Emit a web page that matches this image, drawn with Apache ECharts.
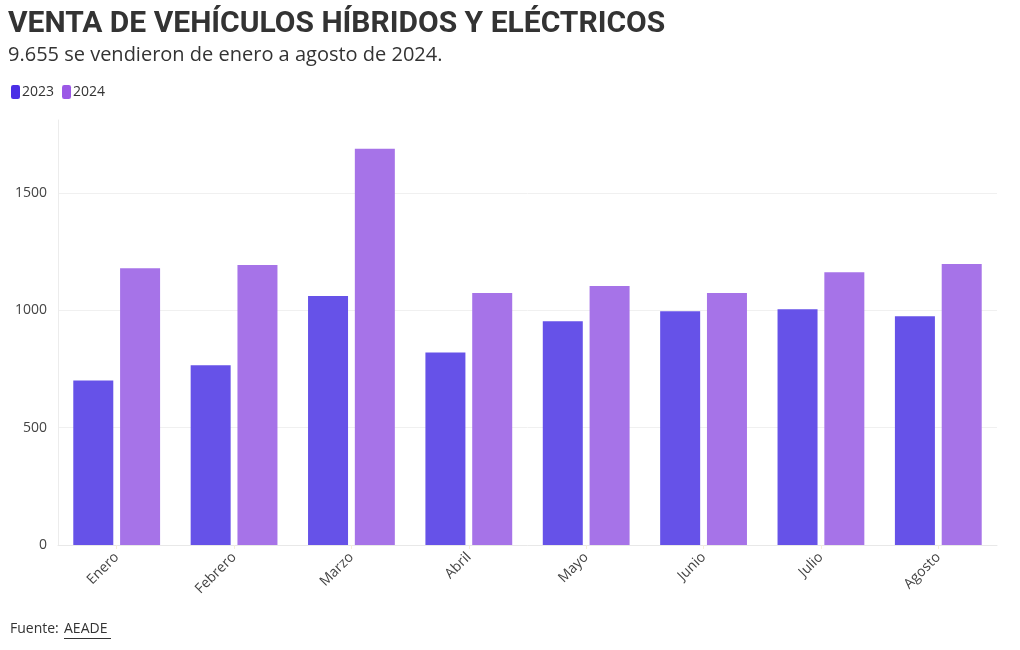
<!DOCTYPE html>
<html><head><meta charset="utf-8">
<script src="https://cdn.jsdelivr.net/npm/echarts@6/dist/echarts.min.js"></script>
<style>html,body{margin:0;padding:0;background:#fff}#c{width:1020px;height:650px}</style>
</head><body><div id="c"></div>
<script>
const months = ["Enero","Febrero","Marzo","Abril","Mayo","Junio","Julio","Agosto"];
const sales2023 = [701, 765, 1060, 820, 953, 996, 1004, 974];
const sales2024 = [1179, 1192, 1688, 1073, 1103, 1073, 1162, 1197];
const yTicks = [0, 500, 1000, 1500];

const chart = echarts.init(document.getElementById('c'));
const font = "'Open Sans', 'Noto Sans', sans-serif";
chart.setOption({
  animation: false,
  textStyle: {fontFamily: font},
  title: {
    text: 'VENTA DE VEHÍCULOS HÍBRIDOS Y ELÉCTRICOS',
    subtext: '9.655 se vendieron de enero a agosto de 2024.',
    left: 8, top: 9, itemGap: 6, padding: 0,
    textStyle: {fontFamily: "Roboto, sans-serif", fontSize: 30, fontWeight: 'bold', color: '#333'},
    subtextStyle: {fontFamily: font, fontSize: 20, color: '#333'}
  },
  legend: {
    left: 6, top: 80, itemWidth: 9, itemHeight: 14, itemGap: 8,
    icon: 'roundRect',
    textStyle: {fontSize: 14, color: '#333', padding: [0,0,0,-3]},
    data: [
      {name: '2023', itemStyle: {color: '#4b2fe6'}},
      {name: '2024', itemStyle: {color: '#9b58e6'}}
    ]
  },
  grid: {left: 58, right: 23, top: 120, bottom: 105, containLabel: false},
  xAxis: {
    type: 'category', data: months,
    axisLine: {lineStyle: {color: '#e8e8e8'}},
    axisTick: {show: true, alignWithLabel: true, length: 4, lineStyle: {color: '#f5f0d8'}},
    axisLabel: {rotate: 45, fontSize: 14, color: '#444', margin: 10}
  },
  yAxis: {
    type: 'value', min: 0, max: 1810, interval: 500,
    axisLine: {show: true, lineStyle: {color: '#ececec'}},
    axisTick: {show: false},
    axisLabel: {fontSize: 14, color: '#444', margin: 11, showMaxLabel: false,
      formatter: v => yTicks.includes(v) ? String(v) : ''},
    splitLine: {lineStyle: {color: '#f0f0f0'}, showMaxLine: false}
  },
  series: [
    {name: '2023', type: 'bar', data: sales2023, barWidth: 40, barGap: '17%',
     itemStyle: {color: '#6652e8'}},
    {name: '2024', type: 'bar', data: sales2024, barWidth: 40,
     itemStyle: {color: '#a673e8'}}
  ],
  graphic: [
    {type: 'text', left: 10, top: 622, style: {text: 'Fuente:', font: "14px " + font, fill: '#333'}},
    {type: 'text', left: 64, top: 622, style: {text: 'AEADE', font: "14px " + font, fill: '#333'}},
    {type: 'line', shape: {x1: 64, y1: 638.5, x2: 111, y2: 638.5}, style: {stroke: '#333', lineWidth: 1}}
  ]
});
</script></body></html>
